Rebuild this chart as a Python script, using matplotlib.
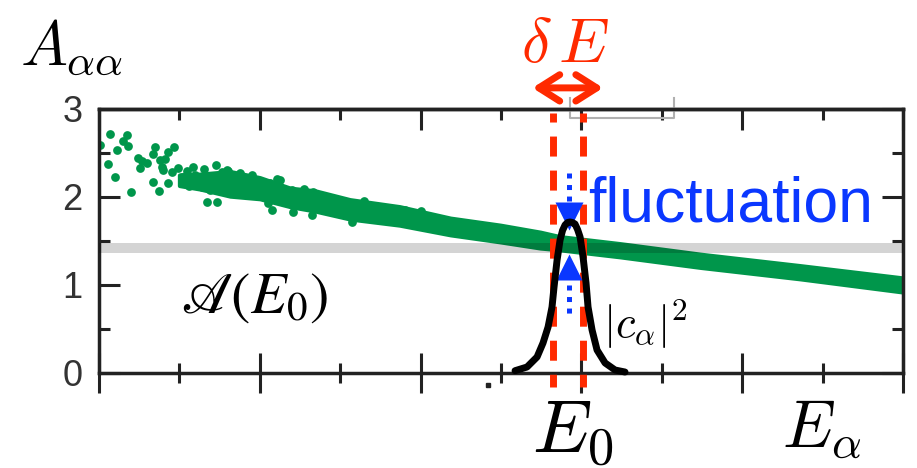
import matplotlib
matplotlib.use("Agg")
import matplotlib.pyplot as plt
from matplotlib.patches import FancyArrowPatch, ArrowStyle

plt.rcParams['mathtext.fontset'] = 'cm'
plt.rcParams['lines.scale_dashes'] = False
plt.rcParams['font.family'] = ['Liberation Sans', 'DejaVu Sans']

# ---- data ----
# sparse scattered points (E_alpha, A_aa)
scatter_x = [0.01, 0.14, 0.35, 0.30, 0.36, 0.22, 0.11, 0.20, 0.40, 0.49, 0.53, 0.60,
             0.51, 0.70, 0.67, 0.76, 0.82, 0.86, 0.93, 0.78, 0.80, 0.91, 0.98, 0.67,
             0.86, 0.75, 1.03, 1.04, 1.17, 1.19, 1.34, 1.47, 2.15, 2.21, 2.13, 2.41,
             2.65, 2.25, 3.15, 3.81, 1.10, 1.30, 1.45, 1.60, 1.75, 1.90,
             1.19, 1.28, 1.38, 1.53, 1.59, 1.73, 1.88, 2.03, 2.10, 2.23, 2.40,
             2.40, 2.66, 3.50, 1.08, 1.12, 2.55, 2.90, 3.30, 4.00]
scatter_y = [2.59, 2.72, 2.70, 2.64, 2.58, 2.53, 2.38, 2.23, 2.06, 2.44, 2.41, 2.39,
             2.33, 2.57, 2.49, 2.42, 2.43, 2.51, 2.57, 2.34, 2.31, 2.28, 2.33, 2.17,
             2.16, 2.07, 2.23, 2.16, 2.34, 2.25, 1.94, 1.94, 1.85, 2.20, 2.16, 1.83,
             1.80, 2.19, 1.72, 1.85, 2.30, 2.32, 2.36, 2.30, 2.27, 2.25,
             2.23, 2.11, 2.08, 2.28, 2.31, 2.19, 2.22, 2.11, 1.93, 2.00, 2.05,
             2.08, 2.06, 1.77, 2.24, 2.12, 2.09, 1.98, 1.95, 1.84]
# dense band of points: upper and lower edges
band_x = [1.00, 1.26, 1.63, 2.00, 2.38, 2.69, 3.12, 3.74, 4.37, 4.99, 5.49, 5.73,
          6.48, 7.48, 8.72, 10.0]
band_hi = [2.25, 2.26, 2.29, 2.22, 2.10, 2.07, 1.97, 1.89, 1.76, 1.68, 1.60, 1.55,
           1.47, 1.35, 1.22, 1.08]
band_lo = [2.13, 2.09, 2.01, 1.98, 1.89, 1.84, 1.75, 1.68, 1.57, 1.49, 1.42, 1.40,
           1.32, 1.20, 1.07, 0.92]
# microcanonical average
A_E0 = 1.42
# energy window
window_x = [5.65, 6.02]
E0 = 5.84
# |c_alpha|^2 curve
cx = [5.174, 5.323, 5.448, 5.522, 5.585, 5.634, 5.659, 5.697, 5.734, 5.765, 5.796,
      5.827, 5.858, 5.889, 5.920, 5.952, 5.983, 6.020, 6.057, 6.082, 6.132, 6.194,
      6.294, 6.418, 6.542]
cy = [0.026, 0.068, 0.182, 0.341, 0.523, 0.750, 0.977, 1.284, 1.511, 1.620, 1.682,
      1.710, 1.716, 1.710, 1.693, 1.630, 1.545, 1.318, 1.023, 0.750, 0.489, 0.261,
      0.114, 0.034, 0.011]
yticks = [0, 1, 2, 3]
ytick_labels = ['0', '1', '2', '3']

green = '#00964b'
red = '#ff2a00'
blue = '#0a37ff'

fig = plt.figure(figsize=(9.17, 4.68), dpi=100)
ax = fig.add_axes([0.1080, 0.2030, 0.8768, 0.5641])
ax.set_xlim(0, 10)
ax.set_ylim(0, 3)

# data
ax.fill_between(band_x, band_lo, band_hi, color=green, lw=3, edgecolor=green, zorder=2)
ax.plot(scatter_x, scatter_y, 'o', color=green, ms=6.3, mec='none', zorder=2)
ax.axhline(A_E0, color='black', alpha=0.17, lw=7.2, zorder=3)

# red window
for xv in window_x:
    ax.plot([xv, xv], [2.955, -0.16], color=red, lw=5,
            linestyle=(7.9, (14.4, 10.1)), dash_capstyle='butt',
            clip_on=False, zorder=4)

# blue arrows
ax.plot([E0, E0], [2.27, 1.95], color=blue, lw=3.6,
        linestyle=(0, (3.6, 4.7)), dash_capstyle='butt', zorder=5)
ax.plot([E0], [1.785], marker='v', ms=20, color=blue, mec='none', zorder=5)
ax.plot([E0, E0], [1.00, 0.63], color=blue, lw=3.6,
        linestyle=(0, (3.6, 4.7)), dash_capstyle='butt', zorder=5)
ax.plot([E0], [1.20], marker='^', ms=19, color=blue, mec='none', zorder=5)

# |c_alpha|^2
ax.plot(cx, cy, color='black', lw=5, solid_capstyle='round',
        solid_joinstyle='round', clip_on=False, zorder=6)

# delta E arrow
arr = FancyArrowPatch((5.39, 3.24), (6.27, 3.24),
                      arrowstyle=ArrowStyle('<->', head_length=15, head_width=9.5),
                      mutation_scale=1, lw=5, color=red, shrinkA=0, shrinkB=0,
                      clip_on=False, zorder=7)
ax.add_patch(arr)

# gray bracket artifact
ax.plot([5.86, 5.86, 7.15, 7.15], [3.125, 2.90, 2.90, 3.125], color='#b0b0b0',
        lw=1.5, clip_on=False, zorder=1)
ax.plot([4.84], [-0.14], 's', color='#222222', ms=3.5, clip_on=False)

# axes styling
for s in ax.spines.values():
    s.set_linewidth(2.5)
    s.set_color('#222222')
ax.set_xticks([0, 2, 4, 6, 8, 10])
ax.set_xticks([1, 3, 5, 7, 9], minor=True)
ax.set_yticks(yticks)
ax.set_yticklabels(ytick_labels)
ax.set_yticks([0.5, 1.5, 2.5], minor=True)
ax.tick_params(axis='x', which='major', direction='inout', length=29, width=2.2,
               color='#222222', labelbottom=False, top=False)
ax.tick_params(axis='x', which='minor', direction='inout', length=14, width=2.2,
               color='#222222', top=False)
ax.tick_params(axis='y', which='major', direction='in', length=15, width=2.2,
               color='#222222', left=True, right=True, labelsize=26,
               labelcolor='#333333', pad=12)
ax.tick_params(axis='y', which='minor', direction='in', length=8, width=2.2,
               color='#222222', left=True, right=True)
sec = ax.secondary_xaxis('top')
sec.set_xticks([0, 2, 4, 6, 8, 10])
sec.set_xticks([1, 3, 5, 7, 9], minor=True)
sec.tick_params(which='major', direction='in', length=15, width=2.2, color='#222222',
                labeltop=False)
sec.tick_params(which='minor', direction='in', length=8, width=2.2, color='#222222')
sec.spines['top'].set_linewidth(2.5)
sec.spines['top'].set_color('#222222')

# texts
fig.text(0.0218, 0.861, r'$A_{\alpha\alpha}$', fontsize=45, ha='left', va='baseline')
fig.text(0.616, 0.8675, r'$\delta\,E$', fontsize=46, color=red, ha='center', va='baseline')
fig.text(0.197, 0.331, r'$\mathscr{A}(E_0)$', fontsize=42, math_fontfamily='stix',
         ha='left', va='baseline')
fig.text(0.6576, 0.278, r'$|c_\alpha|^2$', fontsize=32, ha='left', va='baseline')
fig.text(0.580, 0.032, r'$E_0$', fontsize=54, ha='left', va='baseline')
fig.text(0.853, 0.0449, r'$E_\alpha$', fontsize=48, ha='left', va='baseline')
ax.text(6.08, 1.716, 'fluctuation', fontsize=45, color=blue, ha='left', va='baseline',
        zorder=8)

fig.savefig('out.png', dpi=100)
